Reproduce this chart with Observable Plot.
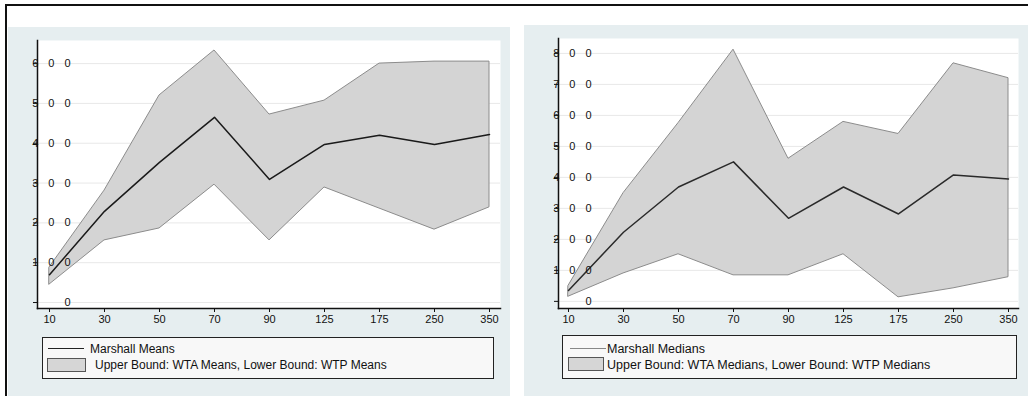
<!DOCTYPE html>
<html>
<head>
<meta charset="utf-8">
<script src="https://cdn.jsdelivr.net/npm/d3@7"></script>
<script src="https://cdn.jsdelivr.net/npm/@observablehq/plot@0.6"></script>
<style>
  html, body { margin: 0; padding: 0; background: #fff; }
  body { width: 1028px; height: 396px; position: relative; overflow: hidden; font-family: "Liberation Sans", Arial, sans-serif; }
  .abs { position: absolute; }
  .frame { left: 5px; top: 4px; width: 1040px; height: 420px; border-top: 2px solid #111; border-left: 2px solid #111; }
  .panel { background: #e6eef0; }
  .legend { border: 1.5px solid #222; background: #f8f8f8; box-sizing: border-box; }
  .legtext { font-size: 12px; color: #111; white-space: nowrap; line-height: 14px; }
  .swatch { background: #d6d6d6; border: 1.5px solid #555; box-sizing: border-box; }
</style>
</head>
<body>
<div class="abs frame"></div>
<div class="abs panel" style="left:8px;top:27px;width:502px;height:369px;"></div>
<div class="abs panel" style="left:524px;top:25px;width:504px;height:371px;"></div>
<div id="left" class="abs" style="left:8px;top:27px;"></div>
<div id="right" class="abs" style="left:524px;top:25px;"></div>

<div class="abs legend" style="left:42px;top:337px;width:452px;height:42px;"></div>
<div class="abs" style="left:48px;top:348px;width:36px;height:0;border-top:1.5px solid #222;"></div>
<div class="abs legtext" id="lt1" style="left:90px;top:342px;"></div>
<div class="abs swatch" style="left:47px;top:358px;width:39px;height:14px;"></div>
<div class="abs legtext" id="lt2" style="left:95px;top:358px;"></div>

<div class="abs legend" style="left:562px;top:335px;width:455px;height:44px;"></div>
<div class="abs" style="left:570px;top:348px;width:36px;height:0;border-top:1.5px solid #888;"></div>
<div class="abs legtext" id="rt1" style="left:607px;top:342px;font-size:12.5px;"></div>
<div class="abs swatch" style="left:568px;top:357px;width:36px;height:14px;"></div>
<div class="abs legtext" id="rt2" style="left:607px;top:358px;font-size:12.5px;"></div>

<script>
// ---- data ----
const cats = ["10", "30", "50", "70", "90", "125", "175", "250", "350"];

const marshallMeans = [70, 229, 352, 465, 309, 397, 420, 397, 422];
const wtaMeans      = [88, 281, 520, 633, 472, 507, 600, 605, 605];
const wtpMeans      = [45, 156, 186, 296, 156, 289, 236, 183, 239];

const marshallMedians = [35, 223, 369, 450, 268, 369, 282, 408, 395];
const wtaMedians      = [50, 349, 575, 812, 460, 579, 540, 768, 720];
const wtpMedians      = [15, 90, 152, 84, 84, 152, 13, 42, 78];

const yTicksMeans   = [0, 100, 200, 300, 400, 500, 600];
const yTicksMedians = [0, 100, 200, 300, 400, 500, 600, 700, 800];

const legendMeans   = ["Marshall Means", "Upper Bound: WTA Means, Lower Bound: WTP Means"];
const legendMedians = ["Marshall Medians", "Upper Bound: WTA Medians, Lower Bound: WTP Medians"];

// ---- chart ----
function chart(o) {
  const data = cats.map((c, i) => ({c, m: o.line[i], hi: o.upper[i], lo: o.lower[i]}));
  const svg = Plot.plot({
    width: o.width, height: o.height,
    marginLeft: o.marginLeft, marginRight: o.marginRight, marginTop: 13, marginBottom: 24,
    style: {background: "transparent", fontFamily: "'Liberation Sans', Arial, sans-serif", fontSize: "11px", color: "#111", overflow: "visible"},
    x: {type: "point", domain: cats, padding: o.padding, label: null},
    y: {domain: o.yDomain, label: null},
    marks: [
      Plot.frame({fill: "white", stroke: null}),
      Plot.gridY(o.yTicks, {stroke: "#e8e8e8", strokeOpacity: 1}),
      Plot.areaY(data, {x: "c", y1: "lo", y2: "hi", fill: "#d4d4d4", stroke: "#8c8c8c", strokeWidth: 1}),
      Plot.lineY(data, {x: "c", y: "m", stroke: o.lineColor, strokeWidth: 1.5}),
      Plot.axisY(o.yTicks, {tickSize: 4, tickFormat: () => ""}),
      Plot.axisY(o.yTicks, {tickSize: 0, tickPadding: 0, dx: 43, textAnchor: "end", fontSize: 11}),
      Plot.axisX({tickSize: 4, tickPadding: 3, fontSize: 11}),
      Plot.frame({anchor: "left", stroke: "#111", strokeWidth: 1.5}),
      Plot.frame({anchor: "bottom", stroke: "#111", strokeWidth: 1.5})
    ]
  });
  svg.querySelectorAll("text").forEach(t => {
    const g = t.closest("[text-anchor]");
    const a = g ? g.getAttribute("text-anchor") : null;
    if (a === "end") t.style.letterSpacing = "10px";
  });
  return svg;
}

document.getElementById("left").append(chart({
  line: marshallMeans, upper: wtaMeans, lower: wtpMeans,
  yDomain: [-15, 658], yTicks: yTicksMeans,
  width: 500, height: 305, marginLeft: 29, marginRight: 8, padding: 0.15, lineColor: "#1a1a1a"
}));
document.getElementById("right").append(chart({
  line: marshallMedians, upper: wtaMedians, lower: wtpMedians,
  yDomain: [-23, 848], yTicks: yTicksMedians,
  width: 494, height: 307, marginLeft: 34, marginRight: 0, padding: 0.14, lineColor: "#2a2a2a"
}));

document.getElementById("lt1").textContent = legendMeans[0];
document.getElementById("lt2").textContent = legendMeans[1];
document.getElementById("rt1").textContent = legendMedians[0];
document.getElementById("rt2").textContent = legendMedians[1];
</script>
</body>
</html>
